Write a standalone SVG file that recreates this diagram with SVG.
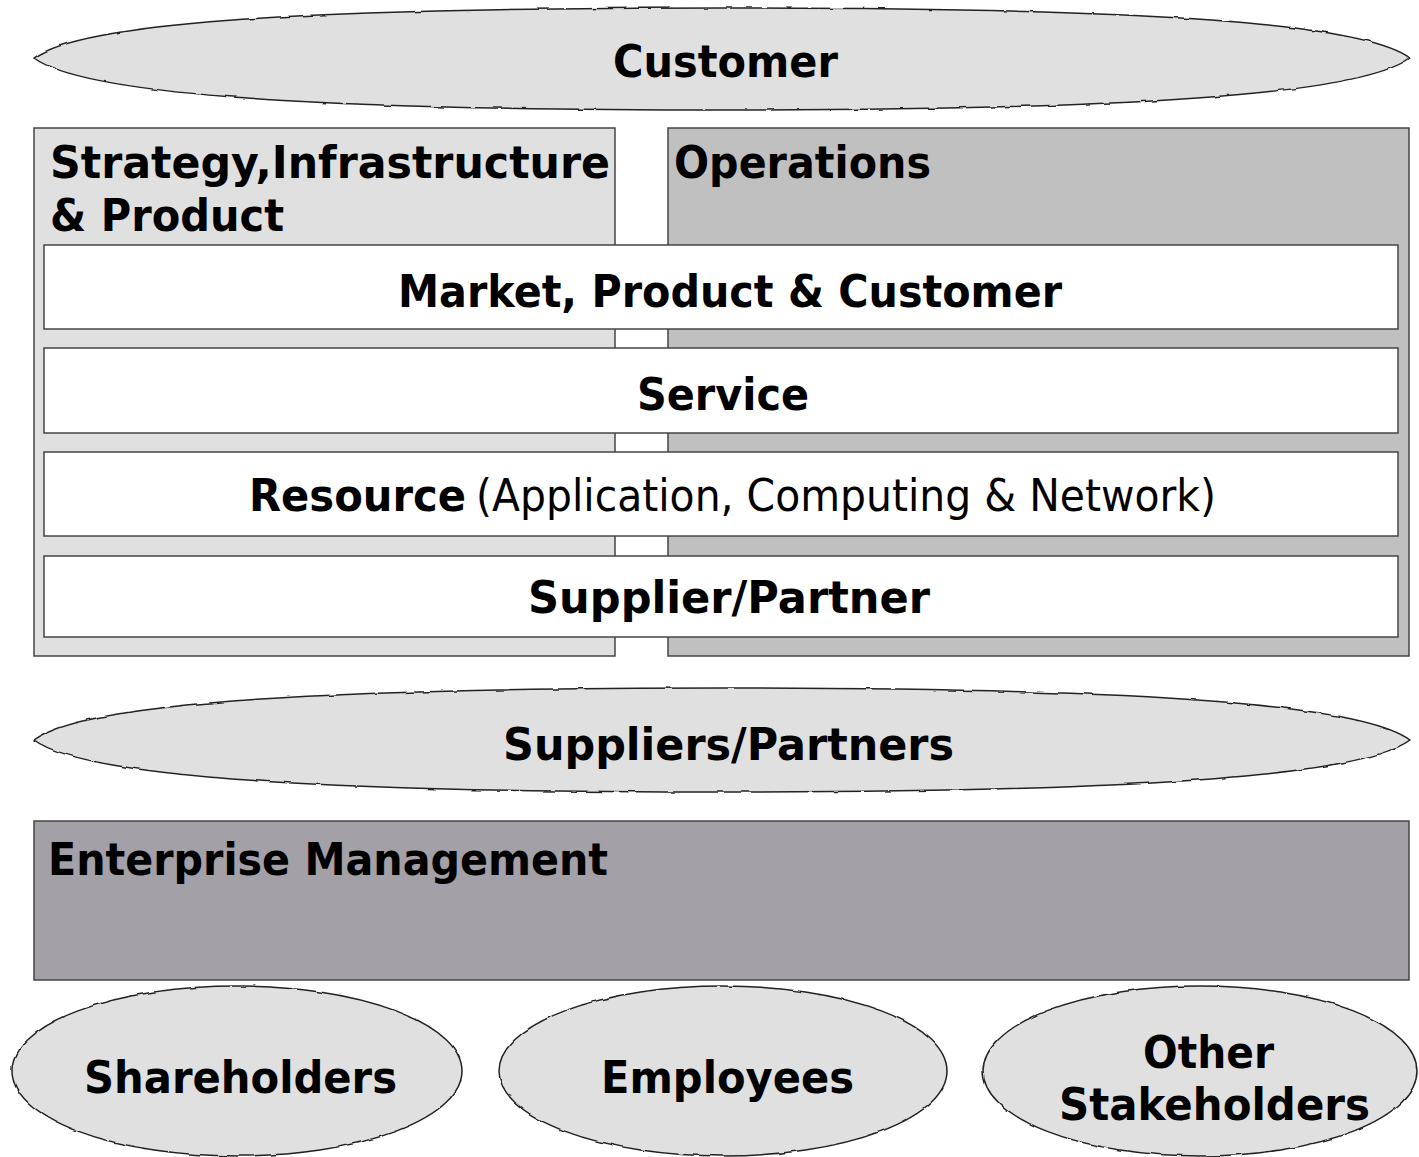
<svg xmlns="http://www.w3.org/2000/svg" width="1419" height="1157" viewBox="0 0 1419 1157">
<defs>
<filter id="wobble" x="-2%" y="-5%" width="104%" height="110%">
<feTurbulence type="fractalNoise" baseFrequency="0.08" numOctaves="1" seed="3" result="noise"/>
<feDisplacementMap in="SourceGraphic" in2="noise" scale="3" xChannelSelector="R" yChannelSelector="G"/>
</filter>
</defs>
<style>
.cloud{fill:#e0e0e0;stroke:#222;stroke-width:1.5;filter:url(#wobble)}
.box{stroke:#444;stroke-width:1.5}
.t{font-family:"DejaVu Sans","Liberation Sans",sans-serif;font-weight:bold;font-size:44px;fill:#000}
.n{font-weight:normal}
</style>
<rect width="1419" height="1157" fill="#fff"/>
<g id="customer">
<path class="cloud" d="M34 58 C80 24 280 8 722 8 C1164 8 1364 24 1410 58 C1364 92 1164 110 722 110 C280 110 80 92 34 58 Z"/>
<text class="t" x="613" y="77" textLength="225" lengthAdjust="spacingAndGlyphs">Customer</text>
</g>
<g id="sip">
<rect class="box" x="34" y="128" width="581" height="528" fill="#e0e0e0"/>
<text class="t" x="50" y="178" textLength="560" lengthAdjust="spacingAndGlyphs">Strategy,Infrastructure</text>
<text class="t" x="50" y="231" textLength="234" lengthAdjust="spacingAndGlyphs">&amp; Product</text>
</g>
<g id="operations">
<rect class="box" x="668" y="128" width="741" height="528" fill="#c0c0c0"/>
<text class="t" x="674" y="178" textLength="257" lengthAdjust="spacingAndGlyphs">Operations</text>
</g>
<g id="market">
<rect class="box" x="44" y="245" width="1354" height="84" fill="#fff"/>
<text class="t" x="398" y="307" textLength="664" lengthAdjust="spacingAndGlyphs">Market, Product &amp; Customer</text>
</g>
<g id="service">
<rect class="box" x="44" y="348" width="1354" height="85" fill="#fff"/>
<text class="t" x="637" y="410" textLength="172" lengthAdjust="spacingAndGlyphs">Service</text>
</g>
<g id="resource">
<rect class="box" x="44" y="452" width="1354" height="84" fill="#fff"/>
<text class="t" x="249" y="511" textLength="217" lengthAdjust="spacingAndGlyphs">Resource</text>
<text class="t n" x="476" y="511" textLength="740" lengthAdjust="spacingAndGlyphs">(Application, Computing &amp; Network)</text>
</g>
<g id="supplier">
<rect class="box" x="44" y="556" width="1354" height="81" fill="#fff"/>
<text class="t" x="528" y="613" textLength="402" lengthAdjust="spacingAndGlyphs">Supplier/Partner</text>
</g>
<g id="suppliers-partners">
<path class="cloud" d="M34 740 C80 706 280 688 722 688 C1164 688 1364 706 1410 740 C1364 774 1164 792 722 792 C280 792 80 774 34 740 Z"/>
<text class="t" x="503" y="760" textLength="451" lengthAdjust="spacingAndGlyphs">Suppliers/Partners</text>
</g>
<g id="enterprise">
<rect class="box" x="34" y="821" width="1375" height="159" fill="#a3a1a7"/>
<text class="t" x="48" y="875" textLength="560" lengthAdjust="spacingAndGlyphs">Enterprise Management</text>
</g>
<g id="shareholders">
<ellipse class="cloud" cx="237" cy="1071" rx="225" ry="85"/>
<text class="t" x="84" y="1093" textLength="313" lengthAdjust="spacingAndGlyphs">Shareholders</text>
</g>
<g id="employees">
<ellipse class="cloud" cx="723" cy="1071" rx="224" ry="85"/>
<text class="t" x="601" y="1093" textLength="253" lengthAdjust="spacingAndGlyphs">Employees</text>
</g>
<g id="other">
<ellipse class="cloud" cx="1200" cy="1071" rx="217" ry="85"/>
<text class="t" x="1143" y="1068" textLength="131" lengthAdjust="spacingAndGlyphs">Other</text>
<text class="t" x="1059" y="1120" textLength="311" lengthAdjust="spacingAndGlyphs">Stakeholders</text>
</g>
<g id="connectors"/>
</svg>
